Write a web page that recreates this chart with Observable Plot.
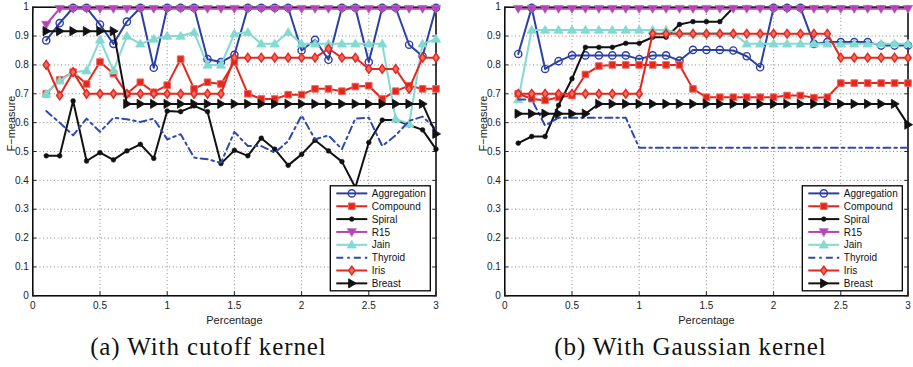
<!DOCTYPE html>
<html>
<head>
<meta charset="utf-8">
<script src="https://cdn.jsdelivr.net/npm/d3@7"></script>
<script src="https://cdn.jsdelivr.net/npm/@observablehq/plot@0.6"></script>
<style>
  html, body { margin: 0; padding: 0; background: #fff; }
  #wrap { position: relative; width: 913px; height: 367px; overflow: hidden; }
  #wrap svg { position: absolute; top: 0; }
</style>
</head>
<body>
<div id="wrap"></div>
<script>
// ---------- shared axes ----------
const pct = [0.1, 0.2, 0.3, 0.4, 0.5, 0.6, 0.7, 0.8, 0.9, 1.0, 1.1, 1.2, 1.3, 1.4, 1.5, 1.6, 1.7, 1.8, 1.9, 2.0, 2.1, 2.2, 2.3, 2.4, 2.5, 2.6, 2.7, 2.8, 2.9, 3.0];
const xTicks = [0, 0.5, 1, 1.5, 2, 2.5, 3];
const yTicks = [0, 0.1, 0.2, 0.3, 0.4, 0.5, 0.6, 0.7, 0.8, 0.9, 1];
const seriesNames = ["Aggregation", "Compound", "Spiral", "R15", "Jain", "Thyroid", "Iris", "Breast"];
const xLabel = "Percentage";
const yLabel = "F\u2212measure";
const captionA = "(a) With cutoff kernel";
const captionB = "(b) With Gaussian kernel";

// ---------- (a) cutoff kernel ----------
const cutAggregation = [0.885, 0.945, 0.998, 0.998, 0.94, 0.873, 0.95, 0.998, 0.79, 0.998, 0.998, 0.998, 0.82, 0.81, 0.835, 0.998, 0.998, 0.998, 0.998, 0.85, 0.887, 0.818, 0.998, 0.998, 0.81, 0.998, 0.998, 0.87, 0.83, 0.998];
const cutCompound = [0.70, 0.748, 0.775, 0.734, 0.81, 0.77, 0.70, 0.74, 0.705, 0.73, 0.82, 0.717, 0.74, 0.734, 0.81, 0.70, 0.682, 0.682, 0.697, 0.697, 0.717, 0.717, 0.709, 0.725, 0.728, 0.682, 0.709, 0.728, 0.717, 0.717];
const cutSpiral = [0.485, 0.485, 0.675, 0.467, 0.496, 0.471, 0.502, 0.525, 0.476, 0.64, 0.638, 0.658, 0.638, 0.458, 0.504, 0.485, 0.546, 0.508, 0.452, 0.49, 0.539, 0.502, 0.465, 0.375, 0.531, 0.609, 0.609, 0.592, 0.575, 0.508];
const cutR15 = [0.94, 0.995, 0.995, 0.995, 0.995, 0.995, 0.995, 0.995, 0.995, 0.995, 0.995, 0.995, 0.995, 0.995, 0.995, 0.995, 0.995, 0.995, 0.995, 0.995, 0.995, 0.995, 0.995, 0.995, 0.995, 0.995, 0.995, 0.995, 0.995, 0.995];
const cutJain = [0.70, 0.745, 0.775, 0.78, 0.887, 0.78, 0.90, 0.873, 0.89, 0.90, 0.90, 0.913, 0.80, 0.80, 0.908, 0.913, 0.873, 0.873, 0.913, 0.873, 0.873, 0.873, 0.873, 0.873, 0.873, 0.873, 0.613, 0.596, 0.873, 0.89];
const cutThyroid = [0.64, 0.60, 0.556, 0.614, 0.568, 0.617, 0.612, 0.602, 0.614, 0.542, 0.56, 0.479, 0.473, 0.461, 0.568, 0.519, 0.519, 0.496, 0.536, 0.625, 0.542, 0.556, 0.508, 0.614, 0.617, 0.519, 0.556, 0.606, 0.621, 0.577];
const cutIris = [0.80, 0.694, 0.775, 0.70, 0.70, 0.70, 0.70, 0.70, 0.70, 0.70, 0.70, 0.70, 0.70, 0.70, 0.825, 0.825, 0.825, 0.825, 0.825, 0.825, 0.825, 0.856, 0.825, 0.825, 0.786, 0.786, 0.786, 0.717, 0.825, 0.825];
const cutBreast = [0.917, 0.917, 0.917, 0.917, 0.917, 0.917, 0.665, 0.665, 0.665, 0.665, 0.665, 0.665, 0.665, 0.665, 0.665, 0.665, 0.665, 0.665, 0.665, 0.665, 0.665, 0.665, 0.665, 0.665, 0.665, 0.665, 0.665, 0.665, 0.665, 0.561];

// ---------- (b) Gaussian kernel ----------
const gauAggregation = [0.838, 0.998, 0.786, 0.813, 0.833, 0.833, 0.833, 0.833, 0.833, 0.82, 0.833, 0.833, 0.815, 0.852, 0.852, 0.852, 0.85, 0.83, 0.792, 0.998, 0.998, 0.998, 0.873, 0.879, 0.879, 0.879, 0.879, 0.867, 0.867, 0.867];
const gauCompound = [0.70, 0.683, 0.677, 0.688, 0.694, 0.767, 0.796, 0.80, 0.80, 0.80, 0.80, 0.80, 0.80, 0.717, 0.688, 0.688, 0.688, 0.688, 0.688, 0.688, 0.694, 0.694, 0.686, 0.688, 0.737, 0.737, 0.737, 0.737, 0.737, 0.737];
const gauSpiral = [0.529, 0.552, 0.552, 0.66, 0.752, 0.861, 0.861, 0.861, 0.875, 0.875, 0.896, 0.896, 0.94, 0.95, 0.95, 0.95, 0.998, 0.998, 0.998, 0.998, 0.998, 0.998, 0.998, 0.998, 0.998, 0.998, 0.998, 0.998, 0.998, 0.998];
const gauR15 = [0.995, 0.995, 0.995, 0.995, 0.995, 0.995, 0.995, 0.995, 0.995, 0.995, 0.995, 0.995, 0.995, 0.995, 0.995, 0.995, 0.995, 0.995, 0.995, 0.995, 0.995, 0.995, 0.995, 0.995, 0.995, 0.995, 0.995, 0.995, 0.995, 0.995];
const gauJain = [0.68, 0.921, 0.921, 0.921, 0.921, 0.921, 0.921, 0.921, 0.921, 0.921, 0.921, 0.921, 0.91, 0.91, 0.91, 0.91, 0.91, 0.873, 0.873, 0.873, 0.873, 0.873, 0.873, 0.873, 0.873, 0.873, 0.873, 0.873, 0.873, 0.873];
const gauThyroid = [0.68, 0.68, 0.59, 0.617, 0.617, 0.617, 0.617, 0.617, 0.617, 0.513, 0.513, 0.513, 0.513, 0.513, 0.513, 0.513, 0.513, 0.513, 0.513, 0.513, 0.513, 0.513, 0.513, 0.513, 0.513, 0.513, 0.513, 0.513, 0.513, 0.513];
const gauIris = [0.70, 0.70, 0.70, 0.70, 0.70, 0.70, 0.70, 0.70, 0.70, 0.70, 0.908, 0.908, 0.908, 0.908, 0.908, 0.908, 0.908, 0.908, 0.908, 0.908, 0.908, 0.908, 0.908, 0.908, 0.825, 0.825, 0.825, 0.825, 0.825, 0.825];
const gauBreast = [0.631, 0.631, 0.631, 0.631, 0.631, 0.631, 0.665, 0.665, 0.665, 0.665, 0.665, 0.665, 0.665, 0.665, 0.665, 0.665, 0.665, 0.665, 0.665, 0.665, 0.665, 0.665, 0.665, 0.665, 0.665, 0.665, 0.665, 0.665, 0.665, 0.593];

const cutoffValues = [cutAggregation, cutCompound, cutSpiral, cutR15, cutJain, cutThyroid, cutIris, cutBreast];
const gaussValues = [gauAggregation, gauCompound, gauSpiral, gauR15, gauJain, gauThyroid, gauIris, gauBreast];

// ---------- marker shapes ----------
function mk(fn) { return { draw(c, size) { const r = Math.sqrt(size / Math.PI); fn(c, r); } }; }
const symCircle = mk((c, r) => { c.moveTo(r, 0); c.arc(0, 0, r, 0, 2 * Math.PI); c.closePath(); });
const symSquare = mk((c, r) => { c.moveTo(-r, -r); c.lineTo(r, -r); c.lineTo(r, r); c.lineTo(-r, r); c.closePath(); });
const symTriDown = mk((c, r) => { c.moveTo(-r, -0.7 * r); c.lineTo(r, -0.7 * r); c.lineTo(0, r); c.closePath(); });
const symTriUp = mk((c, r) => { c.moveTo(-r, 0.7 * r); c.lineTo(r, 0.7 * r); c.lineTo(0, -r); c.closePath(); });
const symTriRight = mk((c, r) => { c.moveTo(-0.7 * r, -r); c.lineTo(-0.7 * r, r); c.lineTo(r, 0); c.closePath(); });
const symDiamond = mk((c, r) => { c.moveTo(0, -r); c.lineTo(0.72 * r, 0); c.lineTo(0, r); c.lineTo(-0.72 * r, 0); c.closePath(); });

// ---------- series styles ----------
const RED = "#e3271d", BLUE = "#2c3fa4";
const styles = [
  { color: BLUE, lw: 2, symbol: symCircle, r: 3.6, fill: "none", stroke: BLUE, sw: 1.4 },
  { color: RED, lw: 2, symbol: symSquare, r: 3.3, fill: RED, stroke: "#f0665e", sw: 1 },
  { color: "#111", lw: 2, symbol: symCircle, r: 2.4, fill: "#111", stroke: "#111", sw: 0.5 },
  { color: "#b444b4", lw: 2, symbol: symTriDown, r: 4.6, fill: "#b444b4", stroke: "#c060c0", sw: 0.8 },
  { color: "#82dad2", lw: 2, symbol: symTriUp, r: 4.6, fill: "#82dad2", stroke: "#82dad2", sw: 0.8 },
  { color: "#3049ae", lw: 2, dash: "7,4,2.5,4", symbol: null },
  { color: RED, lw: 2, symbol: symDiamond, r: 4.4, fill: "#ee6a62", stroke: RED, sw: 1.4 },
  { color: "#111", lw: 2, symbol: symTriRight, r: 4.6, fill: "#111", stroke: "#111", sw: 0.8 }
];

const FONT = "'Liberation Sans', Arial, Helvetica, sans-serif";
const SERIF = "'Liberation Serif', 'Times New Roman', serif";

function panel(values, cfg) {
  const grid = { stroke: "#7a7a7a", strokeOpacity: 1, strokeWidth: 0.9, strokeDasharray: "1,2.6" };
  const marks = [
    Plot.gridX(xTicks.slice(1, -1), grid),
    Plot.gridY(yTicks.slice(1, -1), grid),
    Plot.frame({ stroke: "#000", strokeWidth: 1.5 }),
    Plot.axisX(xTicks, { anchor: "bottom", tickSize: 0, tickPadding: 6, tickFormat: d => String(d), label: null, fontSize: 10 }),
    Plot.axisX(xTicks, { anchor: "bottom", tickSize: -4, tickFormat: () => "", label: null }),
    Plot.axisX(xTicks, { anchor: "top", tickSize: -4, tickFormat: () => "", label: null }),
    Plot.axisY(yTicks, { anchor: "left", tickSize: 0, tickPadding: 4, tickFormat: d => String(d), label: null, fontSize: 10 }),
    Plot.axisY(yTicks, { anchor: "left", tickSize: -4, tickFormat: () => "", label: null }),
    Plot.axisY(yTicks, { anchor: "right", tickSize: -4, tickFormat: () => "", label: null }),
    Plot.text([yLabel], { frameAnchor: "left", dx: -21, rotate: -90, fontSize: 11 }),
    Plot.text([xLabel], { frameAnchor: "bottom", dy: 28, fontSize: 11 }),
    Plot.text([cfg.caption], { frameAnchor: "bottom", dx: cfg.capDx, dy: 59, fontSize: 25, fontFamily: SERIF, fill: "#111" })
  ];
  styles.forEach((s, k) => {
    const data = pct.map((p, i) => ({ x: p, y: values[k][i] }));
    marks.push(Plot.line(data, { x: "x", y: "y", stroke: s.color, strokeWidth: s.lw, strokeDasharray: s.dash }));
    if (s.symbol) {
      marks.push(Plot.dot(data, { x: "x", y: "y", symbol: s.symbol, r: s.r, fill: s.fill, stroke: s.stroke, strokeWidth: s.sw }));
    }
  });
  const svg = Plot.plot({
    width: cfg.width,
    height: 367,
    marginLeft: cfg.ml,
    marginRight: cfg.mr,
    marginTop: 6.7,
    marginBottom: 71.7,
    x: { domain: [0, 3] },
    y: { domain: [0, 1] },
    style: { fontFamily: FONT, fontSize: "10px", color: "#222", background: "transparent", overflow: "visible" },
    marks
  });
  // widen caption letters to approximate the Computer Modern look
  d3.select(svg).selectAll("text").filter(function () { return this.textContent === cfg.caption; })
    .style("letter-spacing", "0.9px");
  // legend (box with sample line + marker + name)
  const fx1 = cfg.width - cfg.mr, fy2 = 367 - 71.7;
  const w = 100, h = 105, bx = fx1 - 5.2 - w, by = fy2 - 4.5 - h;
  const g = d3.select(svg).append("g").attr("font-family", FONT).attr("font-size", 10).attr("text-anchor", "start");
  g.append("rect").attr("x", bx).attr("y", by).attr("width", w).attr("height", h)
    .attr("fill", "#fff").attr("stroke", "#000").attr("stroke-width", 1.3);
  styles.forEach((s, i) => {
    const cy = by + 7.6 + i * 12.85;
    const l = g.append("line").attr("x1", bx + 6).attr("x2", bx + 37).attr("y1", cy).attr("y2", cy)
      .attr("stroke", s.color).attr("stroke-width", s.lw);
    if (s.dash) l.attr("stroke-dasharray", s.dash);
    if (s.symbol) {
      g.append("path").attr("d", d3.symbol(s.symbol, s.r * s.r * Math.PI)())
        .attr("transform", `translate(${bx + 21.5},${cy})`)
        .attr("fill", s.fill).attr("stroke", s.stroke).attr("stroke-width", s.sw);
    }
    g.append("text").attr("x", bx + 41.5).attr("y", cy).attr("dy", "0.36em")
      .attr("text-anchor", "start").attr("fill", "#111").text(seriesNames[i]);
  });
  svg.style.left = cfg.left + "px";
  return svg;
}

const wrap = document.getElementById("wrap");
wrap.appendChild(panel(cutoffValues, { width: 456, ml: 32.3, mr: 20.5, left: 0, caption: captionA, capDx: -26 }));
wrap.appendChild(panel(gaussValues, { width: 457, ml: 48.3, mr: 5.5, left: 456, caption: captionB, capDx: -16 }));
</script>
</body>
</html>
